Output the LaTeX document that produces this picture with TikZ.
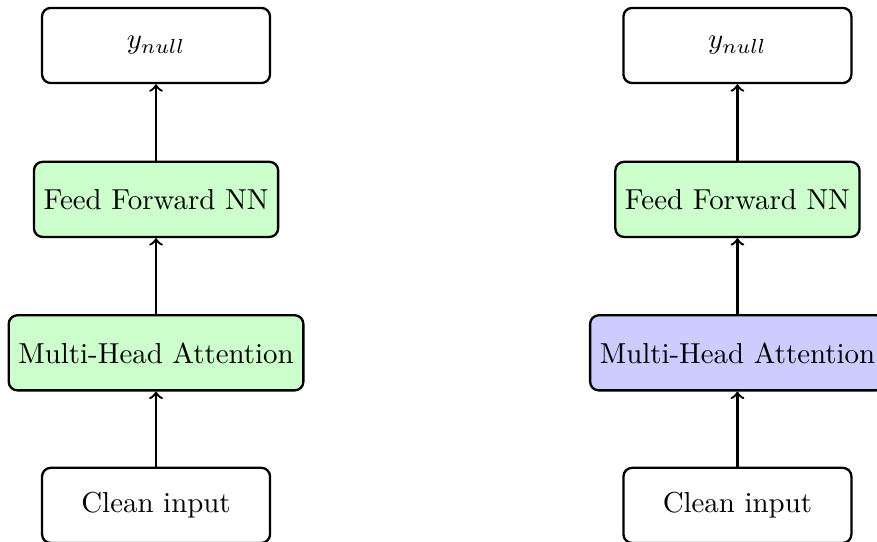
\documentclass[tikz,border=0pt]{standalone}
\usetikzlibrary{arrows}
\begin{document}
\begin{tikzpicture}[x=1pt,y=1pt,
  box/.style={draw, thick, rounded corners=3pt, minimum height=26pt, minimum width=78.9pt, align=center},
  greenbox/.style={box, fill=green!20},
  bluebox/.style={box, fill=blue!20},
  conn/.style={->, thick}]
\useasboundingbox (0,0) rectangle (303.5,-187.5);
% left column
\node[box] (ly) at (54,-15.74) {$y_{null}$};
\node[greenbox] (lf) at (54,-69.0) {Feed Forward NN};
\node[greenbox] (lm) at (54,-122.1) {Multi-Head Attention};
\node[box] (lc) at (54,-174.9) {Clean input};
\draw[conn] (lc) -- (lm);
\draw[conn] (lm) -- (lf);
\draw[conn] (lf) -- (ly);
% right column
\node[box] (ry) at (255.2,-15.74) {$y_{null}$};
\node[greenbox] (rf) at (255.2,-69.0) {Feed Forward NN};
\node[bluebox] (rm) at (255.2,-122.1) {Multi-Head Attention};
\node[box] (rc) at (255.2,-174.9) {Clean input};
\draw[conn] (rc) -- (rm);
\draw[conn] (rm) -- (rf);
\draw[conn] (rf) -- (ry);
\end{tikzpicture}
\end{document}
